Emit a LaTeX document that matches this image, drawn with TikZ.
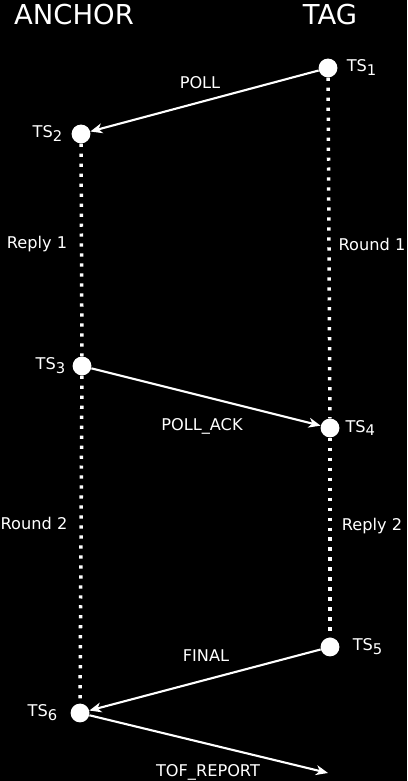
\documentclass[tikz,border=0pt]{standalone}
\usepackage{fontspec}
\setmainfont{DejaVu Sans}
\usepackage{tikz}
\usetikzlibrary{arrows.meta,positioning}
\tikzset{
	ts/.style={circle, fill=white, minimum size=0.47cm, inner sep=0pt},
	tslabel/.style={text=white, inner sep=0pt, font=\fontsize{11.5}{13}\selectfont},
	msg/.style={text=white, anchor=base, inner sep=0pt, font=\fontsize{11.5}{13}\selectfont},
	head/.style={text=white, inner sep=0pt, font=\fontsize{19.5}{22}\selectfont},
	wire/.style={white, line width=1.5pt, -{Stealth[length=8.5pt,width=7pt,inset=2.5pt]}},
	life/.style={white, line width=2.5pt, dash pattern=on 2.3pt off 4.8pt}
}
\newcommand{\tsname}[1]{TS\raisebox{-0.45ex}{\fontsize{10.5}{12}\selectfont #1}}

\begin{document}
\begin{tikzpicture}
				% Background and frame:
				\fill[black] (0, 0) rectangle (10.175, 19.525);
				\useasboundingbox (0, 0) rectangle (10.175, 19.525);
				% Headers:
				\node[head] (anchor) at (1.85, 19.16){ANCHOR};
				\node[head] (tag) at (8.25, 19.16){TAG};
				% Time stamps:
				\node[ts] (ts1) at (8.2, 17.825){};
				\node[ts] (ts2) at (2.025, 16.175){};
				\node[ts] (ts3) at (2.05, 10.375){};
				\node[ts] (ts4) at (8.25, 8.825){};
				\node[ts] (ts5) at (8.25, 3.35){};
				\node[ts] (ts6) at (2.0, 1.7){};
				\coordinate (tof) at (8.2, 0.2);
				\node[tslabel, right=0.22cm of ts1] (l1){\tsname{1}};
				\node[tslabel, left=0.22cm of ts2] (l2){\tsname{2}};
				\node[tslabel, left=0.17cm of ts3] (l3){\tsname{3}};
				\node[tslabel, right=0.14cm of ts4] (l4){\tsname{4}};
				\node[tslabel, right=0.32cm of ts5] (l5){\tsname{5}};
				\node[tslabel, left=0.32cm of ts6] (l6){\tsname{6}};
				% Life lines:
				\draw[life] (ts2) -- (ts3);
				\draw[life] (ts3) -- (ts6);
				\draw[life] (ts1) -- (ts4);
				\draw[life] (ts4) -- (ts5);
				% Messages:
				\draw[wire] (ts1) -- (ts2);
				\draw[wire] (ts3) -- (ts4);
				\draw[wire] (ts5) -- (ts6);
				\draw[wire] (ts6) -- (tof);
				\node[msg] (poll) at (5.0, 17.3){POLL};
				\node[msg] (reply1) at (0.925, 13.31){Reply 1};
				\node[msg] (round1) at (9.3, 13.26){Round 1};
				\node[msg] (pollack) at (5.05, 8.76){POLL\_ACK};
				\node[msg] (round2) at (0.85, 6.29){Round 2};
				\node[msg] (reply2) at (9.3, 6.26){Reply 2};
				\node[msg] (final) at (5.15, 2.975){FINAL};
				\node[msg] (tofreport) at (5.2, 0.12){TOF\_REPORT};
			\end{tikzpicture}
\end{document}
